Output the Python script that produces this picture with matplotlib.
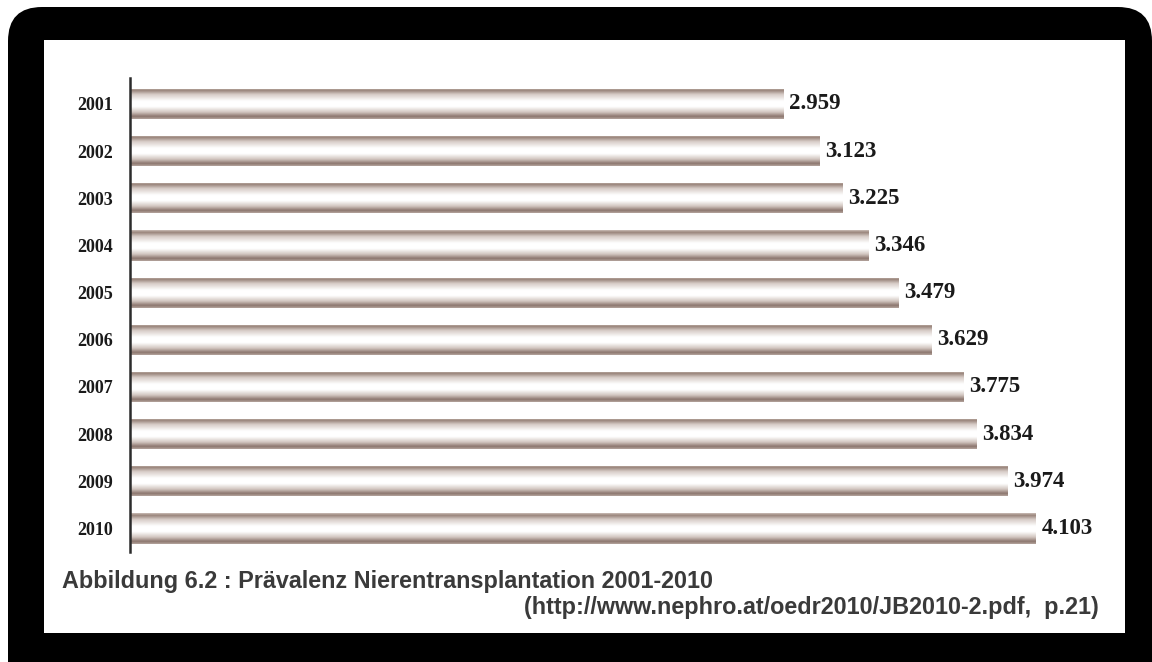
import numpy as np
import matplotlib
matplotlib.use("Agg")
import matplotlib.pyplot as plt
from matplotlib.patches import FancyBboxPatch, Rectangle
from matplotlib.colors import to_rgb

# Prevalence of kidney transplantation (thousands of patients), 2001-2010
years = ["2001", "2002", "2003", "2004", "2005", "2006", "2007", "2008", "2009", "2010"]
values = [2.959, 3.123, 3.225, 3.346, 3.479, 3.629, 3.775, 3.834, 3.974, 4.103]
value_labels = ["2.959", "3.123", "3.225", "3.346", "3.479", "3.629", "3.775", "3.834", "3.974", "4.103"]

caption = "Abbildung 6.2 : Prävalenz Nierentransplantation 2001-2010"
source = "(http://www.nephro.at/oedr2010/JB2010-2.pdf,  p.21)"

W, H = 1152, 662
fig = plt.figure(figsize=(W / 100, H / 100), dpi=100, facecolor="white")

# Background layer in pixel coordinates: black rounded frame with white panel
bg = fig.add_axes([0, 0, 1, 1], zorder=0)
bg.set_xlim(0, W)
bg.set_ylim(H, 0)
bg.axis("off")
bg.add_patch(FancyBboxPatch((8, 7), W - 8, 700,
                            boxstyle="round,pad=0,rounding_size=34",
                            fc="black", ec="none"))
bg.add_patch(Rectangle((44, 40), 1081, 593, fc="white", ec="none"))

bg.text(62, 588, caption, fontsize=16.8, fontweight="bold",
        family="Liberation Sans", color="#3a3a3a", va="baseline", ha="left")
bg.text(1099, 614, source, fontsize=16.8, fontweight="bold",
        family="Liberation Sans", color="#3a3a3a", va="baseline", ha="right")

# Chart axes
ax_left, ax_top, ax_bottom, ax_right = 130, 78, 552, 1125
ax = fig.add_axes([ax_left / W, (H - ax_bottom) / H,
                   (ax_right - ax_left) / W, (ax_bottom - ax_top) / H], zorder=1)
ax.set_facecolor("none")

ypos = np.arange(len(years))
bars = ax.barh(ypos, values, height=0.64, color="none", edgecolor="none")

# Vertical shading profile of each bar: dark edges, white centre
stops = [0.0, 0.07, 0.20, 0.42, 0.60, 0.78, 0.92, 1.0]
cols = ["#c9bbb4", "#98837a", "#d6cbc6", "#ffffff", "#ffffff", "#d2c6c0", "#8c766e", "#b3a39c"]
n = 80
t = np.linspace(0, 1, n)
rgb = np.array([to_rgb(c) for c in cols])
grad = np.stack([np.interp(t, stops, rgb[:, k]) for k in range(3)], axis=-1)
grad = grad[:, None, :]

for rect in bars:
    x0, y0 = rect.get_x(), rect.get_y()
    w, h = rect.get_width(), rect.get_height()
    im = ax.imshow(grad, extent=(x0, x0 + w, y0 + h, y0), origin="upper",
                   aspect="auto", interpolation="bilinear", zorder=2)
    im.set_clip_path(rect)

for v, lab, y in zip(values, value_labels, ypos):
    ax.annotate(lab, xy=(v, y), xytext=(4, 0), textcoords="offset points",
                ha="left", va="center", fontsize=16.5, fontweight="bold",
                family="Liberation Serif", color="#1a1a1a")

ax.set_xlim(0, (ax_right - ax_left) / 220.8)
ax.set_ylim(9.5, -0.55)
ax.set_yticks(ypos)
ax.set_yticklabels(years, fontsize=13, fontweight="bold",
                   family="Liberation Serif", color="#1a1a1a")
ax.tick_params(axis="y", length=0, pad=12)
ax.set_xticks([])
for s in ["top", "right", "bottom"]:
    ax.spines[s].set_visible(False)
ax.spines["left"].set_color("#2b2b2b")
ax.spines["left"].set_linewidth(1.8)

fig.savefig("out.png", dpi=100, facecolor="white")
